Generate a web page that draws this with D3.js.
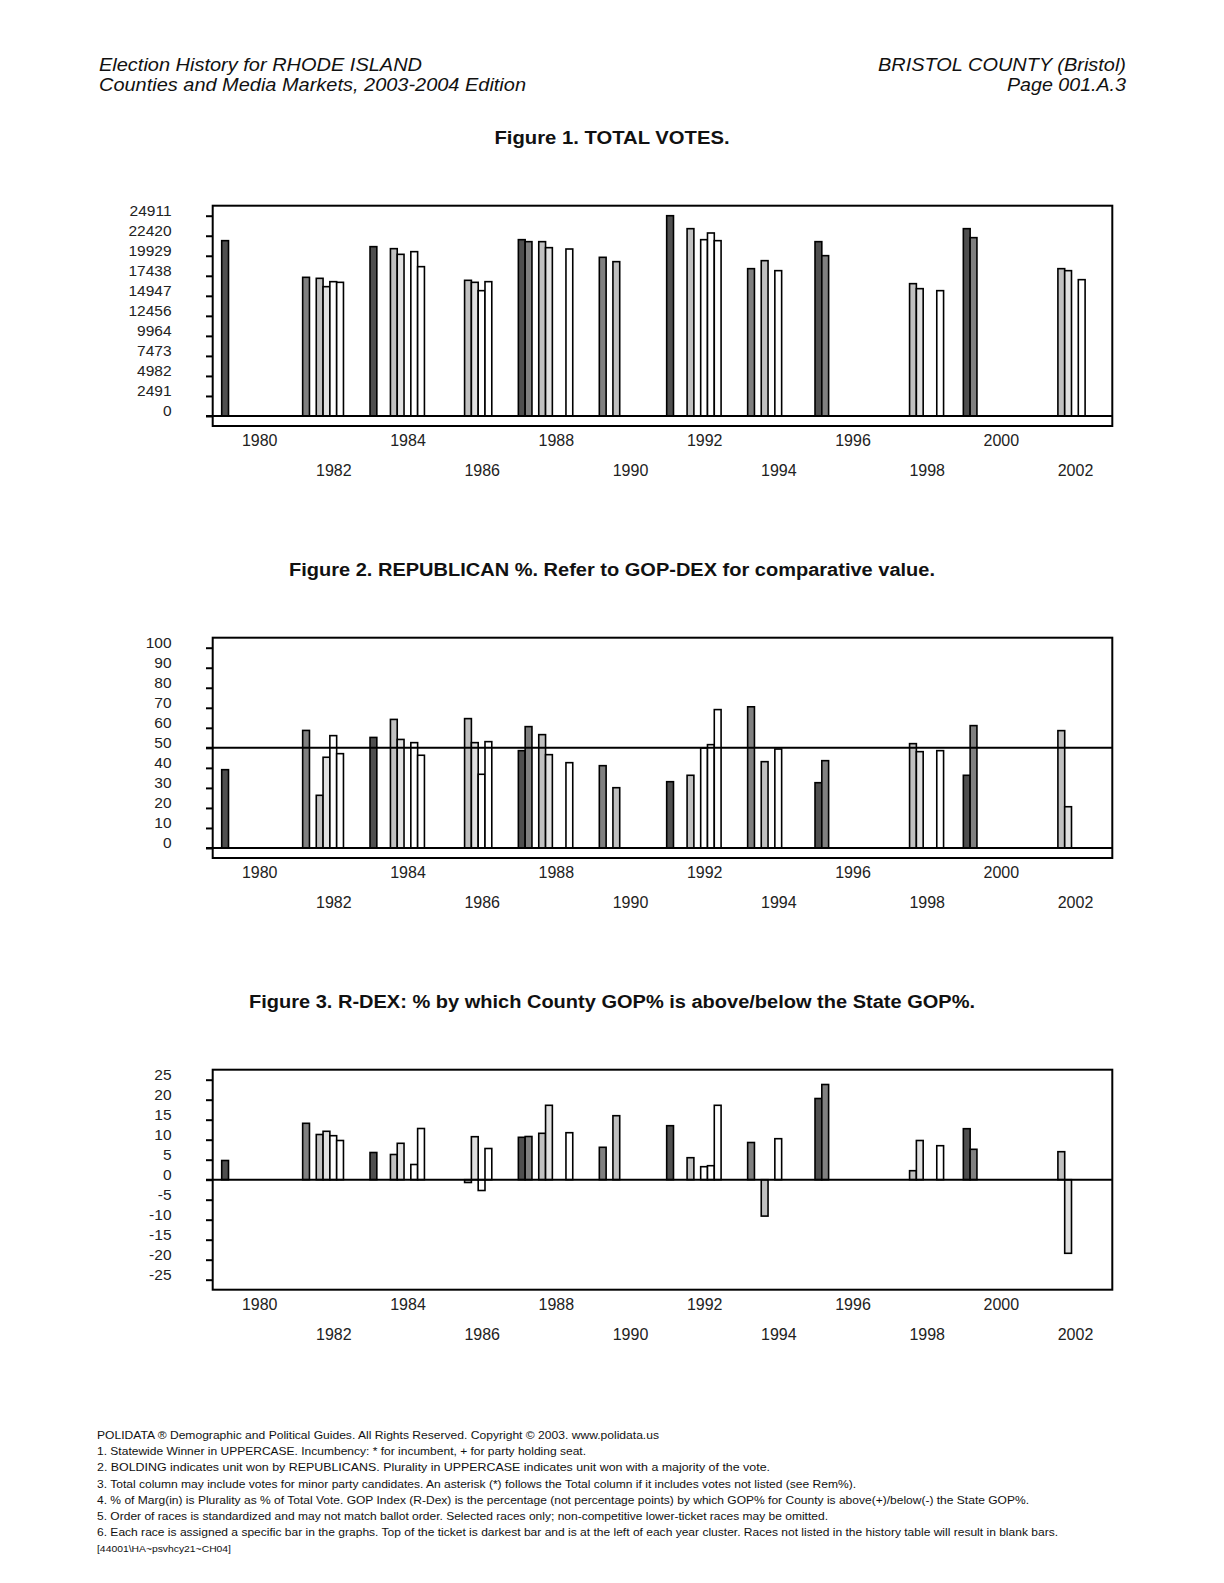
<!DOCTYPE html>
<html><head><meta charset="utf-8">
<script src="https://cdn.jsdelivr.net/npm/d3@7"></script>
<style>body{margin:0;background:#fff}svg{display:block}</style>
</head><body>
<script>
// ---------- DATA ----------
const YEARS = [1980,1982,1984,1986,1988,1990,1992,1994,1996,1998,2000,2002];
const YEAR_LABELS_ROW1 = [1980,1984,1988,1992,1996,2000];
const YEAR_LABELS_ROW2 = [1982,1986,1990,1994,1998,2002];
const SLOTS = [0,1,3,4,5,6,7];
const SLOT_FILLS = ["#4f4f4f","#808080",null,"#c0c0c0","#e0e0e0","#ffffff","#ffffff","#ffffff"];

// Figure 1: total votes, one array per race slot (index follows YEARS)
const votesS0 = [21808,null,21062,null,21932,null,24911,null,21684,null,23300,null];
const votesS1 = [null,17247,null,null,21684,19735,null,18325,19942,null,22181,null];
const votesS3 = [null,17123,20813,16874,21684,19196,23300,19320,null,16460,null,18325];
const votesS4 = [null,16086,20108,16625,20937,null,null,null,null,15838,null,18077];
const votesS5 = [null,16708,null,15589,null,null,21932,18077,null,null,null,null];
const votesS6 = [null,16625,20440,16708,null,null,22762,null,null,null,null,16957];
const votesS7 = [null,null,18574,null,20771,null,21808,null,null,15589,null,null];
const votesTicks = [0,2491.1,4982.2,7473.3,9964.4,12455.5,14946.6,17437.7,19928.8,22419.9,24911];
const votesTickLabels = ["0","2491","4982","7473","9964","12456","14947","17438","19929","22420","24911"];

// Figure 2: Republican %
const repS0 = [39.1,null,55.2,null,48.6,null,33.1,null,32.6,null,36.3,null];
const repS1 = [null,58.7,null,null,60.6,41.1,null,70.5,43.6,null,61.1,null];
const repS3 = [null,26.3,64.2,64.6,56.6,30.1,36.3,43.1,null,52.1,null,58.6];
const repS4 = [null,45.3,54.2,52.6,46.6,null,null,null,null,48.1,null,20.6];
const repS5 = [null,56.1,null,36.8,null,null,49.9,49.4,null,null,null,null];
const repS6 = [null,47.1,52.6,53.1,null,null,51.6,null,null,null,null,null];
const repS7 = [null,null,46.3,null,42.6,null,69.1,null,null,48.6,null,null];
const repTicks = [0,10,20,30,40,50,60,70,80,90,100];
const repTickLabels = ["0","10","20","30","40","50","60","70","80","90","100"];

// Figure 3: R-DEX
const rdexS0 = [4.8,null,6.8,null,10.6,null,13.5,null,20.3,null,12.75,null];
const rdexS1 = [null,14.1,null,null,10.8,8.1,null,9.3,23.8,null,7.6,null];
const rdexS3 = [null,11.3,6.3,-0.7,11.6,16.0,5.5,-9.1,null,2.25,null,7.0];
const rdexS4 = [null,12.1,9.1,10.75,18.6,null,null,null,null,9.8,null,-18.4];
const rdexS5 = [null,11.0,null,-2.7,null,null,3.25,10.25,null,null,null,null];
const rdexS6 = [null,9.8,3.8,7.8,null,null,3.5,null,null,null,null,null];
const rdexS7 = [null,null,12.8,null,11.75,null,18.6,null,null,8.5,null,null];
const rdexTicks = [-25,-20,-15,-10,-5,0,5,10,15,20,25];
const rdexTickLabels = ["-25","-20","-15","-10","-5","0","5","10","15","20","25"];

const TITLES = [
  "Figure 1. TOTAL VOTES.",
  "Figure 2. REPUBLICAN %. Refer to GOP-DEX for comparative value.",
  "Figure 3. R-DEX: % by which County GOP% is above/below the State GOP%."
];
const HEADER_LEFT = ["Election History for RHODE ISLAND","Counties and Media Markets, 2003-2004 Edition"];
const HEADER_RIGHT = ["BRISTOL COUNTY (Bristol)","Page 001.A.3"];
const FOOTER = [
  "POLIDATA \u00AE Demographic and Political Guides. All Rights Reserved. Copyright \u00A9 2003. www.polidata.us",
  "1. Statewide Winner in UPPERCASE. Incumbency: * for incumbent, + for party holding seat.",
  "2. BOLDING indicates unit won by REPUBLICANS. Plurality in UPPERCASE indicates unit won with a majority of the vote.",
  "3. Total column may include votes for minor party candidates. An asterisk (*) follows the Total column if it includes votes not listed (see Rem%).",
  "4. % of Marg(in) is Plurality as % of Total Vote. GOP Index (R-Dex) is the percentage (not percentage points) by which GOP% for County is above(+)/below(-) the State GOP%.",
  "5. Order of races is standardized and may not match ballot order. Selected races only; non-competitive lower-ticket races may be omitted.",
  "6. Each race is assigned a specific bar in the graphs. Top of the ticket is darkest bar and is at the left of each year cluster. Races not listed in the history table will result in blank bars.",
  "[44001\\HA~psvhcy21~CH04]"
];

// ---------- DRAWING ----------
const W = 1224, H = 1583;
const FONT = "'Liberation Sans', Arial, Helvetica, sans-serif";
const svg = d3.select("body").append("svg").attr("width", W).attr("height", H)
  .style("font-family", FONT);

// header
const hdrW = [323, 427], hdrRW = [248, 119];
HEADER_LEFT.forEach((t, i) => svg.append("text").attr("x", 99).attr("y", 71 + i * 20)
  .attr("font-size", 18).attr("font-style", "italic").attr("fill", "#111")
  .attr("textLength", hdrW[i]).attr("lengthAdjust", "spacingAndGlyphs").text(t));
HEADER_RIGHT.forEach((t, i) => svg.append("text").attr("x", 1126 - hdrRW[i]).attr("y", 71 + i * 20)
  .attr("font-size", 18).attr("font-style", "italic").attr("fill", "#111")
  .attr("textLength", hdrRW[i]).attr("lengthAdjust", "spacingAndGlyphs").text(t));

const frameL = 212.7, frameR = 1112.3;
const xYear = d3.scaleLinear().domain([1980, 2002]).range([259.7, 1075.5]);
const slotX = d3.scaleLinear().domain([0, 1]).range([-38, -31.2]);
const slotW = slotX(1) - slotX(0);

const titleW = [235, 646, 726];

function panel(idx, top, bottom, domain, ticks, tickLabels, series, refs) {
  const g = svg.append("g");
  const y = d3.scaleLinear().domain(domain).range([bottom, top]);

  g.append("text").attr("x", 612 - titleW[idx] / 2).attr("y", top - 62)
    .attr("font-size", 18).attr("font-weight", "bold").attr("fill", "#111")
    .attr("textLength", titleW[idx]).attr("lengthAdjust", "spacingAndGlyphs")
    .text(TITLES[idx]);

  // bars
  SLOTS.forEach((s, si) => {
    const vals = series[si];
    YEARS.forEach((yr, i) => {
      const v = vals[i];
      if (v === null) return;
      g.append("rect")
        .attr("x", xYear(yr) + slotX(s))
        .attr("width", slotW)
        .attr("y", Math.min(y(v), y(0)))
        .attr("height", Math.abs(y(v) - y(0)))
        .attr("fill", SLOT_FILLS[s])
        .attr("stroke", "#000").attr("stroke-width", 1.6);
    });
  });

  // reference lines (zero + others)
  refs.forEach(r => g.append("line").attr("x1", frameL - 6.7).attr("x2", frameR)
    .attr("y1", y(r)).attr("y2", y(r)).attr("stroke", "#000").attr("stroke-width", 2));

  // frame
  g.append("rect").attr("x", frameL).attr("y", top).attr("width", frameR - frameL)
    .attr("height", bottom - top).attr("fill", "none").attr("stroke", "#000").attr("stroke-width", 2);

  // y axis
  const ax = g.append("g").attr("transform", `translate(${frameL},0)`)
    .call(d3.axisLeft(y).tickValues(ticks).tickSize(6.7).tickPadding(34.5)
      .tickFormat((d, i) => tickLabels[i]));
  ax.select(".domain").remove();
  ax.selectAll(".tick line").attr("stroke", "#000").attr("stroke-width", 2);
  ax.selectAll(".tick text").attr("y", -5).attr("font-size", 15.5)
    .attr("font-family", FONT).attr("fill", "#222");

  // x labels
  g.selectAll(".yr1").data(YEAR_LABELS_ROW1).enter().append("text")
    .attr("x", d => xYear(d)).attr("y", bottom + 14.7).attr("dy", "0.35em")
    .attr("text-anchor", "middle").attr("font-size", 16).attr("fill", "#222").text(d => d);
  g.selectAll(".yr2").data(YEAR_LABELS_ROW2).enter().append("text")
    .attr("x", d => xYear(d)).attr("y", bottom + 44.7).attr("dy", "0.35em")
    .attr("text-anchor", "middle").attr("font-size", 16).attr("fill", "#222").text(d => d);
}

panel(0, 205.7, 426, [-1245.5, 26156.5], votesTicks, votesTickLabels,
  [votesS0, votesS1, votesS3, votesS4, votesS5, votesS6, votesS7], [0]);
panel(1, 637.7, 858, [-5, 105], repTicks, repTickLabels,
  [repS0, repS1, repS3, repS4, repS5, repS6, repS7], [0, 50]);
panel(2, 1069.7, 1289.7, [-27.5, 27.5], rdexTicks, rdexTickLabels,
  [rdexS0, rdexS1, rdexS3, rdexS4, rdexS5, rdexS6, rdexS7], [0]);

// footer
const footW = [562, 489, 673, 759, 932, 731, 961, 134];
FOOTER.forEach((t, i) => svg.append("text").attr("x", 97).attr("y", 1435 + i * 16.2).attr("dy", "0.35em")
  .attr("font-size", i === 7 ? 9.5 : 11.5).attr("fill", "#111")
  .attr("textLength", footW[i]).attr("lengthAdjust", "spacingAndGlyphs").text(t));
</script>
</body></html>
